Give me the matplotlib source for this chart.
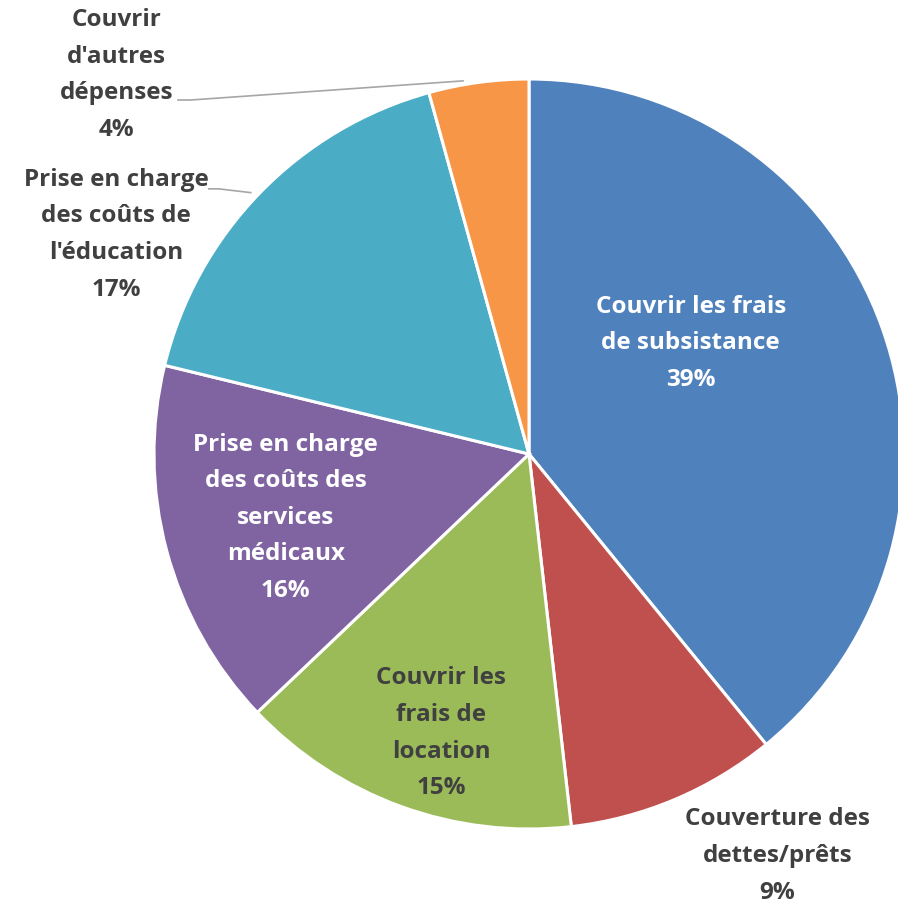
import matplotlib
matplotlib.use('Agg')
import matplotlib.pyplot as plt

# Share of each use (percent)
labels = ['Couvrir les frais\nde subsistance',
          'Couverture des\ndettes/prêts',
          'Couvrir les\nfrais de\nlocation',
          'Prise en charge\ndes coûts des\nservices\nmédicaux',
          "Prise en charge\ndes coûts de\nl'éducation",
          "Couvrir\nd'autres\ndépenses"]
values = [39.1, 9.1, 14.7, 15.9, 16.9, 4.3]
colors = ['#4F81BD', '#C0504D', '#9BBB59', '#8064A2', '#4BACC6', '#F79646']
text_colors = ['white', '#404040', '#404040', 'white', '#404040', '#404040']

# label centres in data units (pie radius = 1)
label_pos = [(0.431, 0.295), (0.662, -1.072), (-0.234, -0.745),
             (-0.649, -0.170), (-1.101, 0.585), (-1.101, 1.011)]

W, H = 898, 901
cx, cy, r = 529, 454, 375

fig = plt.figure(figsize=(W / 100, H / 100), dpi=100)
ax = fig.add_axes([(cx - r) / W, (H - cy - r) / H, 2 * r / W, 2 * r / H])

ax.pie(values, colors=colors, startangle=90, counterclock=False, radius=1,
       wedgeprops=dict(edgecolor='white', linewidth=2.2))
ax.set_xlim(-1, 1)
ax.set_ylim(-1, 1)
ax.axis('off')

for lab, v, (x, y), tc in zip(labels, values, label_pos, text_colors):
    ax.text(x, y, f'{lab}\n{v:.0f}%', ha='center', va='center', color=tc,
            fontsize=17.5, fontweight='bold', family='Open Sans',
            linespacing=1.7, clip_on=False)

# leader lines for the two outside labels on the left
ax.plot([-0.936, -0.902, -0.176], [0.944, 0.944, 0.995], color='#A6A6A6',
        lw=1.2, clip_on=False)
ax.plot([-0.854, -0.827, -0.742], [0.707, 0.707, 0.697], color='#A6A6A6',
        lw=1.2, clip_on=False)

fig.savefig('out.png', dpi=100)
